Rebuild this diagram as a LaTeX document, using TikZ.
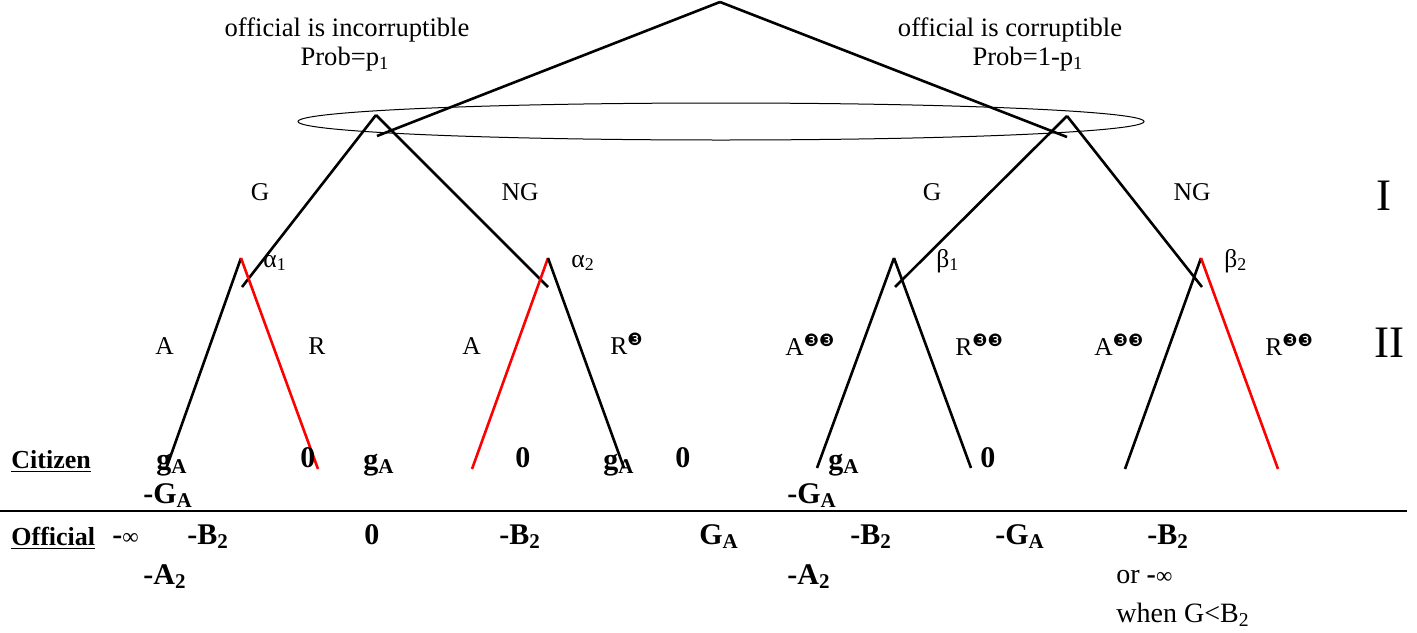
\documentclass[tikz,border=0pt]{standalone}
\usepackage{fontspec}
\setmainfont{Liberation Serif}
\newfontfamily\dingfont{DejaVu Sans}
\newcommand\dng[1]{\raisebox{4.3pt}{\dingfont\fontsize{8.5pt}{8.5pt}\selectfont #1}}
\begin{document}
\begin{tikzpicture}[x=0.5pt,y=-0.5pt,
  branch/.style={line width=1.3pt},
  redbranch/.style={branch,draw=red},
  toplbl/.style={font=\fontsize{13.3pt}{16pt}\selectfont,inner sep=0,anchor=base},
  lbl/.style={font=\fontsize{12.8pt}{15pt}\selectfont,inner sep=0,anchor=base},
  lblw/.style={font=\fontsize{12.8pt}{15pt}\selectfont,inner sep=0,anchor=base west},
  roman/.style={font=\fontsize{22.5pt}{26pt}\selectfont,inner sep=0,anchor=base},
  val/.style={font=\fontsize{15pt}{18pt}\selectfont\bfseries,inner sep=0,anchor=base west},
  rowlbl/.style={font=\fontsize{13pt}{16pt}\selectfont\bfseries,inner sep=0,anchor=base west},
  plain/.style={font=\fontsize{14pt}{16pt}\selectfont,inner sep=0,anchor=base west}]
\useasboundingbox (0,0) rectangle (1417,632);
% tree vertices
\coordinate (root) at (720,2);
\coordinate (rl) at (377,136);
\coordinate (rr) at (1067,137);
\coordinate (L1) at (376,115);
\coordinate (R1) at (1067,116);
\coordinate (lg) at (242,287);
\coordinate (lng) at (548,287);
\coordinate (rg) at (895,287);
\coordinate (rng) at (1202,287);
\coordinate (a1) at (241,258);
\coordinate (a2) at (548,258);
\coordinate (b1) at (894,258);
\coordinate (b2) at (1201,258);
\coordinate (a1A) at (166,469);
\coordinate (a1R) at (318,469);
\coordinate (a2A) at (472,469);
\coordinate (a2R) at (624,468);
\coordinate (b1A) at (817,468);
\coordinate (b1R) at (971,468);
\coordinate (b2A) at (1125,469);
\coordinate (b2R) at (1278,469);
\coordinate (hl) at (0,511);
\coordinate (hr) at (1407,511);
% information set
\draw[line width=0.5pt] (721,121.5) ellipse [x radius=423, y radius=18.5];
% branches
\draw[branch] (root) -- (rl);
\draw[branch] (root) -- (rr);
\draw[branch] (L1) -- (lg);
\draw[branch] (L1) -- (lng);
\draw[branch] (R1) -- (rg);
\draw[branch] (R1) -- (rng);
\draw[branch] (a1) -- (a1A);
\draw[redbranch] (a1) -- (a1R);
\draw[redbranch] (a2) -- (a2A);
\draw[branch] (a2) -- (a2R);
\draw[branch] (b1) -- (b1A);
\draw[branch] (b1) -- (b1R);
\draw[branch] (b2) -- (b2A);
\draw[redbranch] (b2) -- (b2R);
\draw[line width=1.3pt] (hl) -- (hr);
% top labels
\node[toplbl] (t1) at (347,36) {official is incorruptible};
\node[toplbl] (t2) at (345,65) {Prob=p\textsubscript{1}};
\node[toplbl] (t3) at (1010,36) {official is corruptible};
\node[toplbl] (t4) at (1028,65) {Prob=1-p\textsubscript{1}};
% move labels
\node[lbl] (g1) at (260,200) {G};
\node[lbl] (ng1) at (520,200) {NG};
\node[lbl] (g2) at (932,200) {G};
\node[lbl] (ng2) at (1192,200) {NG};
\node[lblw] (al1) at (263,267) {α\textsubscript{1}};
\node[lblw] (al2) at (571,267) {α\textsubscript{2}};
\node[lblw] (be1) at (936,267) {β\textsubscript{1}};
\node[lblw] (be2) at (1224,267) {β\textsubscript{2}};
\node[lblw] (A1) at (155,354) {A};
\node[lblw] (R1l) at (308,354) {R};
\node[lblw] (A2) at (462,354) {A};
\node[lblw] (R2l) at (610,354) {R\dng{❸}};
\node[lblw] (A3) at (785,355) {A\dng{❸❸}};
\node[lblw] (R3l) at (955,355) {R\dng{❸❸}};
\node[lblw] (A4) at (1094,355) {A\dng{❸❸}};
\node[lblw] (R4l) at (1265,355) {R\dng{❸❸}};
\node[roman] (I) at (1384,210) {I};
\node[roman] (II) at (1389,357) {II};
% payoffs
\node[rowlbl] (cit) at (11,468) {\underline{Citizen}};
\node[rowlbl] (off) at (11,545) {\underline{Official}};
\node[val] (c1) at (156,469) {g\textsubscript{A}};
\node[val] (c2) at (300,467) {0};
\node[val] (c3) at (363,469) {g\textsubscript{A}};
\node[val] (c4) at (515,467) {0};
\node[val] (c5) at (603,469) {g\textsubscript{A}};
\node[val] (c6) at (675,467) {0};
\node[val] (c7) at (828,469) {g\textsubscript{A}};
\node[val] (c8) at (980,467) {0};
\node[val] (d1) at (143,503) {-G\textsubscript{A}};
\node[val] (d2) at (787,503) {-G\textsubscript{A}};
\node[val] (o1) at (112,544) {-{\mdseries\fontsize{11.5pt}{12pt}\selectfont ∞}};
\node[val] (o2) at (187,544) {-B\textsubscript{2}};
\node[val] (o3) at (364,544) {0};
\node[val] (o4) at (499,544) {-B\textsubscript{2}};
\node[val] (o5) at (699,544) {G\textsubscript{A}};
\node[val] (o6) at (850,544) {-B\textsubscript{2}};
\node[val] (o7) at (995,544) {-G\textsubscript{A}};
\node[val] (o8) at (1147,544) {-B\textsubscript{2}};
\node[val] (e1) at (143,584) {-A\textsubscript{2}};
\node[val] (e2) at (787,584) {-A\textsubscript{2}};
\node[plain] (or) at (1116,583) {or \textbf{-}{\fontsize{11.5pt}{12pt}\selectfont ∞}};
\node[plain] (wh) at (1116,622) {when G<B\textsubscript{2}};
\end{tikzpicture}
\end{document}
